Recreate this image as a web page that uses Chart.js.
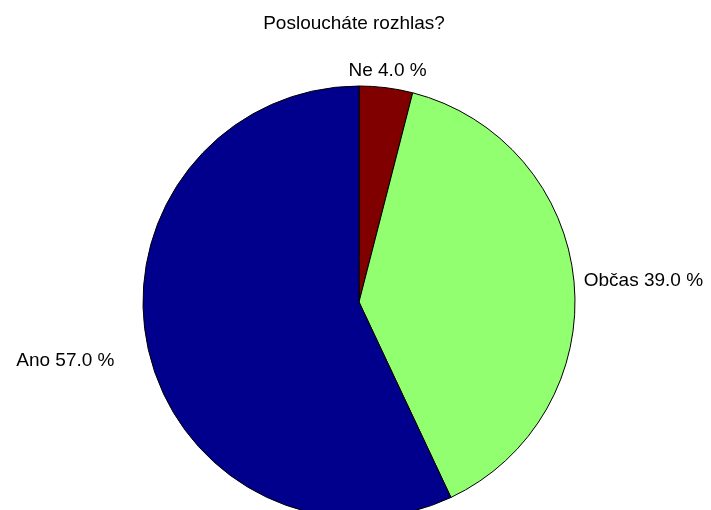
<!DOCTYPE html>
<html>
<head>
<meta charset="utf-8">
<script src="https://cdn.jsdelivr.net/npm/chart.js@4/dist/chart.umd.min.js"></script>
<style>
html,body{margin:0;padding:0;background:#fff;overflow:hidden;}
#wrap{width:711px;height:510px;position:relative;}
</style>
</head>
<body>
<div id="wrap"><canvas id="c" width="711" height="510"></canvas></div>
<script>
const categories = ["Ne", "Občas", "Ano"];
const values = [4.0, 39.0, 57.0];
const sliceColors = ["rgb(128,0,0)", "rgb(146,255,112)", "rgb(0,0,140)"];
const chartTitle = "Posloucháte rozhlas?";

const FONT = '19px "Liberation Sans", Arial, sans-serif';

const labelPlugin = {
  id: 'pieLabels',
  afterDatasetsDraw(chart, args, opts) {
    const ctx = chart.ctx;
    const meta = chart.getDatasetMeta(0);
    ctx.save();
    ctx.font = FONT;
    ctx.fillStyle = '#000';
    meta.data.forEach((arc, i) => {
      const p = arc.getProps(['x','y','startAngle','endAngle','outerRadius'], true);
      const mid = (p.startAngle + p.endAngle) / 2;
      const k = opts.radialFactor[i];
      const cx = Math.cos(mid), sy = Math.sin(mid);
      const x = p.x + cx * p.outerRadius * k;
      const y = p.y + sy * p.outerRadius * k;
      if (Math.abs(cx) < 0.3) {
        ctx.textAlign = 'center';
        ctx.textBaseline = sy < 0 ? 'alphabetic' : 'top';
      } else {
        ctx.textAlign = cx > 0 ? 'left' : 'right';
        ctx.textBaseline = 'middle';
      }
      ctx.fillText(categories[i] + ' ' + values[i].toFixed(1) + ' %', x, y + (opts.yShift[i] || 0));
    });
    // title
    ctx.textAlign = 'center';
    ctx.textBaseline = 'alphabetic';
    ctx.fillText(chartTitle, opts.titleX, opts.titleY);
    ctx.restore();
  }
};

new Chart(document.getElementById('c'), {
  type: 'pie',
  data: {
    labels: categories,
    datasets: [{
      data: values,
      backgroundColor: sliceColors,
      borderColor: '#000',
      borderWidth: 1,
      borderAlign: 'center',
      radius: 216,
      clip: false
    }]
  },
  options: {
    responsive: false,
    animation: false,
    events: [],
    layout: { padding: { top: 94, left: 7, right: 0, bottom: 0 } },
    plugins: {
      legend: { display: false },
      tooltip: { enabled: false },
      title: { display: false },
      pieLabels: { radialFactor: [1.055, 1.045, 1.16], yShift: [0, 0, 4], titleX: 354, titleY: 29 }
    }
  },
  plugins: [labelPlugin]
});
</script>
</body>
</html>
